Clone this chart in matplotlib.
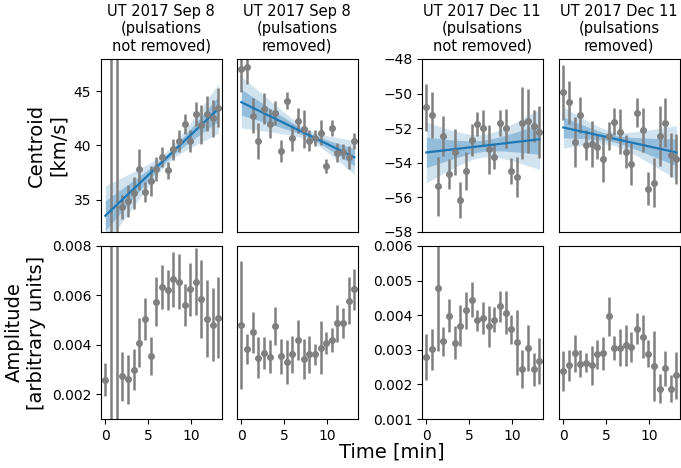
import numpy as np
import matplotlib
matplotlib.use('Agg')
import matplotlib.pyplot as plt

# time of each spectrum [min]
times = [0.0, 0.66, 1.31, 1.97, 2.63, 3.29, 3.94, 4.60, 5.26, 5.91, 6.57,
         7.23, 7.89, 8.54, 9.20, 9.86, 10.51, 11.17, 11.83, 12.49, 13.14]

titles = ['UT 2017 Sep 8\n(pulsations\nnot removed)',
          'UT 2017 Sep 8\n(pulsations\nremoved)',
          'UT 2017 Dec 11\n(pulsations\nnot removed)',
          'UT 2017 Dec 11\n(pulsations\nremoved)']

# centroid [km/s] and errors
cen_sep_raw = [30.0, 60.0, 60.0, 34.3, 34.85, 35.6, 37.8, 35.7, 36.7, 37.85, 38.95,
               37.7, 39.65, 40.4, 42.0, 40.4, 42.9, 41.9, 42.95, 42.5, 43.5]
cen_sep_raw_err = [1.0, 40.0, 40.0, 1.13, 1.5, 1.5, 1.9, 0.93, 1.4, 1.1, 0.9,
                   0.8, 0.95, 1.0, 0.9, 1.0, 1.1, 1.8, 1.65, 1.75, 1.8]
cen_sep_clean = [47.1, 47.25, 42.77, 40.4, 43.4, 42.0, 43.0, 39.5, 44.13, 40.7, 42.3,
                 41.5, 40.45, 40.7, 41.2, 38.1, 41.6, 39.33, 39.43, 38.9, 40.45]
cen_sep_clean_err = [2.2, 1.55, 1.6, 1.65, 1.45, 1.35, 1.1, 1.05, 0.8, 1.2, 1.15,
                     1.75, 1.0, 0.75, 1.2, 0.65, 0.75, 0.9, 0.7, 1.05, 0.75]
cen_dec_raw = [-50.79, -51.25, -55.35, -52.45, -54.65, -53.36, -56.16, -54.46, -52.68,
               -51.75, -52.0, -53.22, -53.65, -51.71, -52.0, -54.46, -54.8, -51.71,
               -51.58, -51.87, -52.24]
cen_dec_raw_err = [1.37, 1.32, 1.7, 1.14, 0.87, 1.32, 1.04, 1.09, 0.9, 0.7, 1.03,
                   1.42, 0.73, 0.75, 1.12, 0.75, 1.16, 2.1, 1.84, 0.92, 1.5]
cen_dec_clean = [-49.93, -50.51, -52.78, -51.23, -52.97, -52.91, -53.07, -53.8, -52.45,
                 -51.62, -52.2, -53.36, -54.07, -51.1, -52.1, -55.49, -55.14, -52.43,
                 -51.68, -53.55, -53.78]
cen_dec_clean_err = [1.6, 1.26, 1.45, 1.03, 0.87, 1.35, 0.71, 1.3, 0.8, 0.8, 1.28,
                     0.97, 1.2, 0.84, 1.26, 0.97, 1.42, 1.74, 1.42, 1.26, 1.45]

# amplitude [arbitrary units] and errors
amp_sep_raw = [0.00259, 0.012, 0.012, 0.00272, 0.0026, 0.0030, 0.00408, 0.00504, 0.00356,
               0.00575, 0.00634, 0.00621, 0.00665, 0.00656, 0.00562, 0.00624, 0.00656,
               0.00585, 0.00506, 0.00481, 0.0051]
amp_sep_raw_err = [0.00067, 0.012, 0.012, 0.0010, 0.00099, 0.00084, 0.00099, 0.00084,
                   0.00077, 0.00098, 0.0009, 0.00081, 0.00112, 0.00112, 0.00084,
                   0.00108, 0.00136, 0.00158, 0.00157, 0.00147, 0.00165]
amp_sep_clean = [0.0048, 0.00383, 0.0045, 0.00348, 0.00366, 0.00352, 0.00477, 0.00353,
                 0.00331, 0.00361, 0.0042, 0.00342, 0.00362, 0.00361, 0.00389, 0.00409,
                 0.0042, 0.00488, 0.00488, 0.00579, 0.00624]
amp_sep_clean_err = [0.00258, 0.0006, 0.00081, 0.00084, 0.00064, 0.00067, 0.00078,
                     0.00069, 0.00088, 0.00073, 0.00081, 0.00081, 0.00075, 0.00042,
                     0.00108, 0.00044, 0.0005, 0.00075, 0.0006, 0.00096, 0.00081]
amp_dec_raw = [0.00279, 0.00301, 0.00478, 0.00324, 0.00399, 0.0032, 0.0037, 0.00414,
               0.00445, 0.00385, 0.00392, 0.00368, 0.00387, 0.00426, 0.00407, 0.00359,
               0.00322, 0.00244, 0.00306, 0.00244, 0.00268]
amp_dec_raw_err = [0.00066, 0.00059, 0.00182, 0.00042, 0.00048, 0.00048, 0.0006,
                   0.00053, 0.0005, 0.00031, 0.00045, 0.00059, 0.00037, 0.00045,
                   0.00062, 0.00042, 0.00094, 0.00055, 0.00066, 0.00048, 0.00066]
amp_dec_clean = [0.00239, 0.00255, 0.0029, 0.0026, 0.00263, 0.00255, 0.00287, 0.0029,
                 0.00397, 0.00305, 0.00306, 0.00313, 0.00308, 0.00361, 0.00338, 0.00289,
                 0.00253, 0.00188, 0.00246, 0.00188, 0.00226]
amp_dec_clean_err = [0.00057, 0.00044, 0.00053, 0.00038, 0.00027, 0.00057, 0.00042,
                     0.00047, 0.00057, 0.00035, 0.00053, 0.00059, 0.00044, 0.00045,
                     0.00062, 0.0004, 0.001, 0.00042, 0.00051, 0.00038, 0.00067]

# linear fits to the centroid: value at pivot, slope, pivot time, sigma of value, sigma of slope
fit_value = [38.94, 40.9, -53.02, -52.58]
fit_slope = [0.753, -0.388, 0.058, -0.11]
fit_pivot = [7.22, 8.0, 6.6, 5.64]
fit_value_err = [0.3, 0.25, 0.33, 0.2]
fit_slope_err = [0.188, 0.146, 0.124, 0.1]

centroids = [(cen_sep_raw, cen_sep_raw_err), (cen_sep_clean, cen_sep_clean_err),
             (cen_dec_raw, cen_dec_raw_err), (cen_dec_clean, cen_dec_clean_err)]
amplitudes = [(amp_sep_raw, amp_sep_raw_err), (amp_sep_clean, amp_sep_clean_err),
              (amp_dec_raw, amp_dec_raw_err), (amp_dec_clean, amp_dec_clean_err)]

fig = plt.figure(figsize=(6.81, 4.68), dpi=100)
lefts = [0.1483, 0.348, 0.6197, 0.8209]
w, h = 0.177, 0.3697
top_axes = [fig.add_axes([l, 0.5043, w, h]) for l in lefts]
bot_axes = [fig.add_axes([l, 0.1047, w, h]) for l in lefts]

t = np.array(times)
tf = np.linspace(t[0], t[-1], 200)
for i in range(4):
    ax = top_axes[i]
    y, e = centroids[i]
    line = fit_value[i] + fit_slope[i] * (tf - fit_pivot[i])
    sig = np.sqrt(fit_value_err[i]**2 + ((tf - fit_pivot[i]) * fit_slope_err[i])**2)
    ax.fill_between(tf, line - 2*sig, line + 2*sig, color='C0', alpha=0.2, lw=0)
    ax.fill_between(tf, line - sig, line + sig, color='C0', alpha=0.35, lw=0)
    ax.errorbar(t, y, yerr=e, fmt='o', color='gray', ms=4, elinewidth=1.8, capsize=0)
    ax.plot(tf, line, color='C0', lw=1.6)
    ax.set_title(titles[i], fontsize=10.5)
    ax.set_xlim(-0.5, 13.5)
    ax.tick_params(bottom=False, labelbottom=False, labelsize=10)

    ax = bot_axes[i]
    y, e = amplitudes[i]
    ax.errorbar(t, y, yerr=e, fmt='o', color='gray', ms=4, elinewidth=1.8, capsize=0)
    ax.set_xlim(-0.5, 13.5)
    ax.set_xticks([0, 5, 10])
    ax.tick_params(labelsize=10)

for ax in top_axes[:2]:
    ax.set_ylim(32, 48)
    ax.set_yticks([35, 40, 45])
for ax in top_axes[2:]:
    ax.set_ylim(-58, -48)
    ax.set_yticks([-58, -56, -54, -52, -50, -48])
for ax in bot_axes[:2]:
    ax.set_ylim(0.001, 0.008)
    ax.set_yticks([0.002, 0.004, 0.006, 0.008])
for ax in bot_axes[2:]:
    ax.set_ylim(0.001, 0.006)
    ax.set_yticks([0.001, 0.002, 0.003, 0.004, 0.005, 0.006])
for ax in [top_axes[1], top_axes[3], bot_axes[1], bot_axes[3]]:
    ax.tick_params(left=False, labelleft=False)

top_axes[0].set_ylabel('Centroid\n[km/s]', fontsize=14)
bot_axes[0].set_ylabel('Amplitude\n[arbitrary units]', fontsize=14)
fig.text(0.576, 0.034, 'Time [min]', fontsize=14, ha='center', va='center')

fig.savefig('out.png', dpi=100)
